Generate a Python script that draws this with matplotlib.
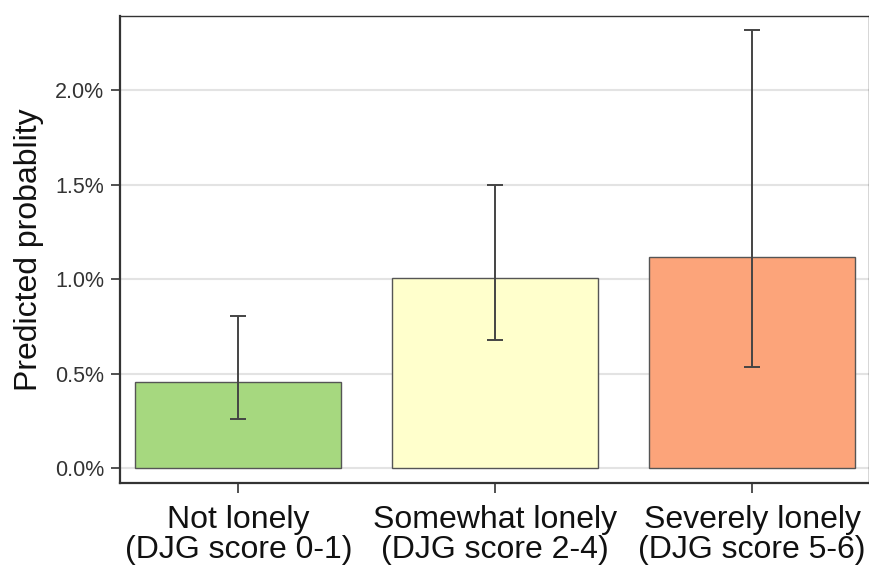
import numpy as np
import matplotlib.pyplot as plt
from matplotlib.ticker import FuncFormatter

plt.rcParams['font.family'] = ['Liberation Sans', 'DejaVu Sans']

# predicted probability (%) with 95% CI per loneliness group
grupos = ["Not lonely\n(DJG score 0-1)", "Somewhat lonely\n(DJG score 2-4)", "Severely lonely\n(DJG score 5-6)"]
prob = [0.455, 1.005, 1.115]
ic_inf = [0.26, 0.68, 0.535]
ic_sup = [0.805, 1.50, 2.32]
cores = ["#a6d87f", "#ffffcc", "#fca47a"]

fig = plt.figure(figsize=(8.7, 5.65), dpi=100)
ax = fig.add_axes([0.138, 0.145, 0.861, 0.8275])

x = np.arange(len(grupos))
erro = [np.array(prob) - np.array(ic_inf), np.array(ic_sup) - np.array(prob)]

ax.bar(x, prob, width=0.8, color=cores, edgecolor="#555555", linewidth=1.0, zorder=2)
ax.errorbar(x, prob, yerr=erro, fmt="none", ecolor="#444444", elinewidth=1.4,
            capsize=5.5, capthick=1.4, zorder=3)

# grade horizontal leve
ax.set_yticks([0, 0.5, 1.0, 1.5, 2.0])
ax.yaxis.grid(True, color="#e3e3e3", linewidth=1.5, zorder=0)
ax.set_axisbelow(True)
ax.yaxis.set_major_formatter(FuncFormatter(lambda v, p: f"{v:.1f}%"))

ax.set_xlim(-0.46, 2.455)
ax.set_ylim(-0.078, 2.394)
ax.set_xticks(x)
ax.set_xticklabels(grupos, fontsize=23, linespacing=1.0, color="#111111")
ax.tick_params(axis="y", labelsize=15.5, length=6.5, width=1.2, pad=5,
               color="#333333", labelcolor="#333333")
ax.tick_params(axis="x", length=7, width=1.2, color="#333333", pad=9)
ax.set_ylabel("Predicted probablity", fontsize=23, labelpad=8, color="#111111")

for lado in ["top", "right"]:
    ax.spines[lado].set_linewidth(1.0)
    ax.spines[lado].set_color("#333333")
for lado in ["left", "bottom"]:
    ax.spines[lado].set_linewidth(1.6)
    ax.spines[lado].set_color("#333333")

fig.savefig("out.png", dpi=100)
